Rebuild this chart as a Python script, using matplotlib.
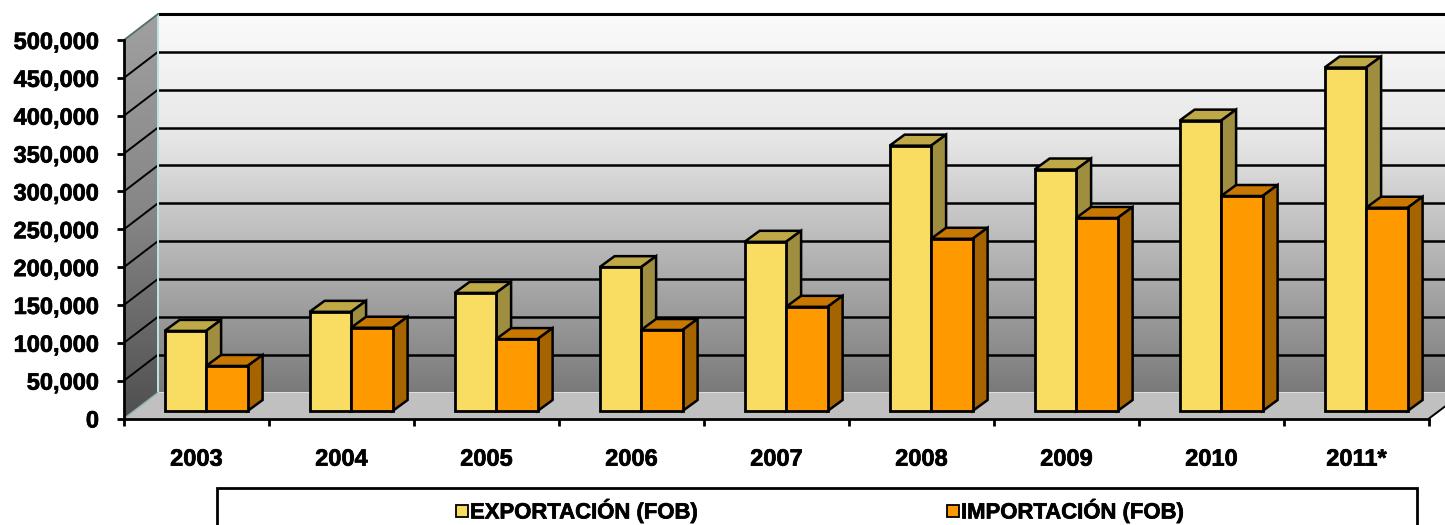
import numpy as np
import matplotlib
matplotlib.use('Agg')
import matplotlib.pyplot as plt
import matplotlib.patheffects as pe
from matplotlib.patches import Polygon, Rectangle

plt.rcParams['font.family'] = ['Liberation Sans', 'DejaVu Sans']
plt.rcParams['font.weight'] = 'bold'

# datos
years = ['2003', '2004', '2005', '2006', '2007', '2008', '2009', '2010', '2011*']
exportacion = [105800, 131000, 156000, 190000, 223500, 350500, 319000, 383600, 453700]
importacion = [59500, 110000, 95000, 107000, 137600, 227500, 255000, 284000, 268500]
y_ticks = [0, 50000, 100000, 150000, 200000, 250000, 300000, 350000, 400000, 450000, 500000]
series_names = ['EXPORTACIÓN (FOB)', 'IMPORTACIÓN (FOB)']

W, H = 1445, 525
fig = plt.figure(figsize=(W / 100, H / 100), dpi=100)
ax = fig.add_axes([124 / W, (H - 418.5) / H, 1305 / W, 378.5 / H])
ax.set_xlim(0, len(years))
ax.set_ylim(0, 500000)
ax.set_aspect('auto')

# pixeles a unidades de datos
px_x = len(years) / 1305
px_y = 500000 / 378.5
wall_dx, wall_dy = 34 * px_x, 26 * px_y
floor_dx, floor_dy = 9.6 * px_x, 7.5 * px_y
bar_dx, bar_dy = 15 * px_x, 11 * px_y
right_edge = 1321 * px_x
heavy = [pe.withStroke(linewidth=0.5, foreground='black')]


def gradient(colors, clip_pts, extent, zorder):
    c = np.array([matplotlib.colors.to_rgb(k) for k in colors])
    t = np.linspace(0, 1, 256)
    img = np.stack([np.interp(t, np.linspace(0, 1, len(c)), c[:, i]) for i in range(3)], axis=1)[:, None, :]
    im = ax.imshow(img, extent=extent, origin='upper', aspect='auto', zorder=zorder, interpolation='bilinear')
    poly = Polygon(clip_pts, closed=True, transform=ax.transData, fill=False, edgecolor='none')
    im.set_clip_path(poly)
    # sin esto la imagen queda recortada al recuadro del eje
    im.set_clip_box(fig.bbox)
    ax.set_xlim(0, len(years))
    ax.set_ylim(0, 500000)


top = 500000
# pared del fondo
gradient(['#fbfbfb', '#e6e6e6', '#b0b0b0', '#7a7a7a'],
         [(wall_dx, wall_dy), (right_edge, wall_dy), (right_edge, top + wall_dy), (wall_dx, top + wall_dy)],
         (wall_dx, right_edge, wall_dy, top + wall_dy), 1)
# pared lateral
gradient(['#a0a0a0', '#868686', '#4f4f4f'],
         [(0, 0), (wall_dx, wall_dy), (wall_dx, top + wall_dy), (0, top)],
         (0, wall_dx, 0, top + wall_dy), 1)
# piso
ax.add_patch(Polygon([(0, 0), (wall_dx, wall_dy), (right_edge, wall_dy), (right_edge, 12 * px_y),
                      (len(years), 0)], closed=True, facecolor='#c0c0c0', edgecolor='none',
                     zorder=2, clip_on=False))

# lineas de rejilla
for v in y_ticks[1:]:
    lw = 1.8 if v < 500000 else 2.2
    ax.plot([wall_dx, right_edge], [v + wall_dy, v + wall_dy], color='black', lw=lw, zorder=3, clip_on=False,
            solid_capstyle='butt')
    if v < 500000:
        ax.plot([0, wall_dx], [v, v + wall_dy], color='black', lw=1.4, zorder=3, clip_on=False)
ax.plot([wall_dx, wall_dx], [wall_dy, top + wall_dy], color='#bfe3e3', lw=1.4, zorder=3, clip_on=False)
ax.plot([0, wall_dx], [top, top + wall_dy], color='#4f6f6f', lw=1.3, zorder=3, clip_on=False)
ax.plot([0, wall_dx], [0, wall_dy], color='#8fb0b0', lw=1.0, zorder=3, clip_on=False)
ax.plot([len(years), right_edge], [0, 12 * px_y], color='black', lw=1.4, zorder=3, clip_on=False)

colors_exp = ('#f9dc62', '#bfa846', '#a08e40')
colors_imp = ('#ff9900', '#c87800', '#a66400')
width = 41.5 * px_x


def draw_bars(values, shift, colors, z):
    xs = np.arange(len(values)) + 0.5 + floor_dx + shift
    ax.bar(xs, values, width=width, bottom=floor_dy, color=colors[0], edgecolor='black', linewidth=2,
           zorder=z + 1, clip_on=False)
    for x, v in zip(xs, values):
        x0, x1 = x - width / 2, x + width / 2
        y0, y1 = floor_dy, floor_dy + v
        ax.add_patch(Polygon([(x0, y1), (x1, y1), (x1 + bar_dx, y1 + bar_dy), (x0 + bar_dx, y1 + bar_dy)],
                             closed=True, facecolor=colors[1], edgecolor='black', lw=1.8, zorder=z,
                             clip_on=False))
        ax.add_patch(Polygon([(x1, y0), (x1 + bar_dx, y0 + bar_dy), (x1 + bar_dx, y1 + bar_dy), (x1, y1)],
                             closed=True, facecolor=colors[2], edgecolor='black', lw=1.8, zorder=z,
                             clip_on=False))


draw_bars(exportacion, -width / 2, colors_exp, 4)
draw_bars(importacion, width / 2, colors_imp, 6)

# ejes
for s in ['top', 'right']:
    ax.spines[s].set_visible(False)
for s in ['left', 'bottom']:
    ax.spines[s].set_linewidth(2)
    ax.spines[s].set_zorder(9)
ax.set_yticks(y_ticks)
ax.set_yticklabels([f'{v:,}' for v in y_ticks], fontsize=17, fontweight='bold', path_effects=heavy)
ax.tick_params(axis='y', length=5, width=2, pad=13)
ax.set_xticks(range(len(years) + 1))
ax.set_xticklabels([])
ax.tick_params(axis='x', which='major', length=5, width=2)
ax.set_xticks(np.arange(len(years)) + 0.5, minor=True)
ax.set_xticklabels(years, minor=True, fontsize=17, fontweight='bold', path_effects=heavy)
ax.tick_params(axis='x', which='minor', length=0, pad=21)

# leyenda
to_fig = fig.transFigure
fig.add_artist(Rectangle((217 / W, -0.05), 1200 / W, (H - 488) / H + 0.05, transform=to_fig,
                         facecolor='white', edgecolor='black', lw=2))
for name, color, bx in zip(series_names, [colors_exp[0], colors_imp[0]], [456, 947]):
    fig.add_artist(Rectangle((bx / W, (H - 517) / H), 12 / W, 12 / H, transform=to_fig,
                             facecolor=color, edgecolor='black', lw=1.3))
    fig.text((bx + 14) / W, (H - 511) / H, name, fontsize=15.9, fontweight='bold', va='center', ha='left',
             path_effects=heavy)

fig.savefig('out.png', dpi=100)
